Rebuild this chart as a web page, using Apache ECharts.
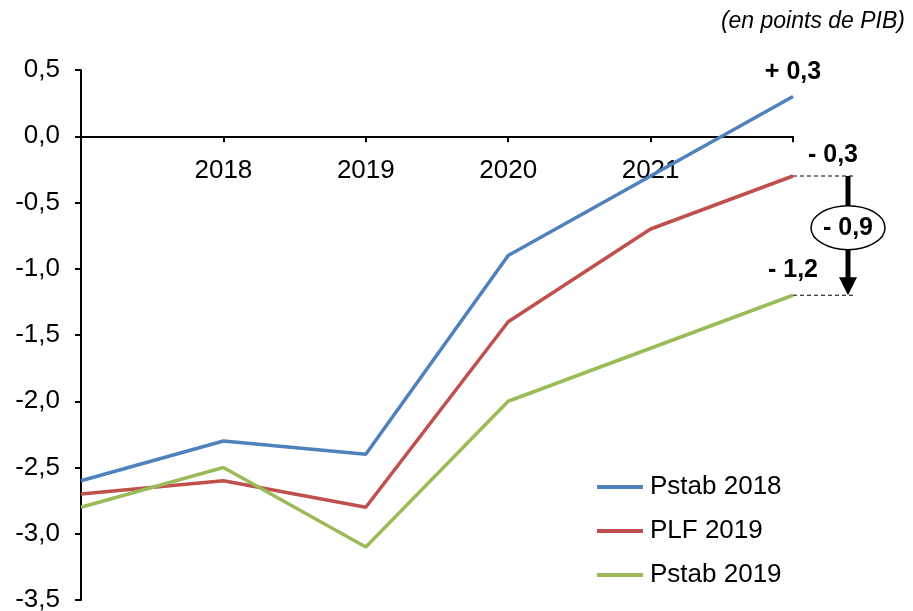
<!DOCTYPE html>
<html><head><meta charset="utf-8">
<script src="https://cdn.jsdelivr.net/npm/echarts@6/dist/echarts.min.js"></script>
<style>html,body{margin:0;padding:0;background:#fff}#c{width:913px;height:611px}</style>
</head><body><div id="c"></div>
<script>
const years = ['2017','2018','2019','2020','2021','2022'];
const shownYears = ['2018','2019','2020','2021'];
const yTicks = [0.5, 0.0, -0.5, -1.0, -1.5, -2.0, -2.5, -3.0, -3.5];
const pstab2018 = [-2.6, -2.3, -2.4, -0.9, -0.3, 0.3];
const plf2019 = [-2.7, -2.6, -2.8, -1.4, -0.7, -0.3];
const pstab2019 = [-2.8, -2.5, -3.1, -2.0, -1.6, -1.2];
const unitNote = '(en points de PIB)';

const FONT = '"Liberation Sans", Arial, sans-serif';
const fmt = v => v.toFixed(1).replace('.', ',');
const signed = v => (v >= 0 ? '+ ' : '- ') + fmt(Math.abs(v));

function withEndLabel(arr, labelOpt) {
  return arr.map((v, i) => i === arr.length - 1 ? {value: v, label: Object.assign({
    show: true, formatter: signed(v), fontFamily: FONT, fontSize: 25, fontWeight: 'bold', color: '#000'
  }, labelOpt)} : v);
}

const GRID = {left: 81, right: 120, top: 70, bottom: 11};
const H = 611;
const yMin = yTicks[yTicks.length - 1], yMax = yTicks[0];
const gridH = H - GRID.top - GRID.bottom;
const zeroOffset = -gridH * (0 - yMin) / (yMax - yMin);

const chart = echarts.init(document.getElementById('c'), null, {renderer: 'canvas'});
const option = {
  animation: false,
  backgroundColor: '#fff',
  grid: Object.assign({outerBoundsMode: 'none', containLabel: false}, GRID),
  xAxis: {
    type: 'category', data: years, boundaryGap: false, position: 'bottom', offset: zeroOffset,
    axisLine: {onZero: false, lineStyle: {color: '#000', width: 2}},
    axisTick: {show: true, length: 6, lineStyle: {color: '#000', width: 2}},
    axisLabel: {
      margin: 22, fontFamily: FONT, fontSize: 26, color: '#000',
      interval: 0,
      formatter: v => shownYears.includes(v) ? v : ''
    },
    splitLine: {show: false}
  },
  yAxis: {
    type: 'value', min: yMin, max: yMax, interval: 0.5,
    axisLine: {show: true, onZero: false, lineStyle: {color: '#000', width: 2}},
    axisTick: {show: true, length: 6, lineStyle: {color: '#000', width: 2}},
    axisLabel: {margin: 21, fontFamily: FONT, fontSize: 26, color: '#000', formatter: v => fmt(v)},
    splitLine: {show: false}
  },
  legend: {
    orient: 'vertical', left: 592, top: 469, itemWidth: 46, itemHeight: 4, itemGap: 18,
    icon: 'rect',
    textStyle: {fontFamily: FONT, fontSize: 26, color: '#000', lineHeight: 25, padding: [0,0,0,2]},
    data: ['Pstab 2018', 'PLF 2019', 'Pstab 2019']
  },
  series: [
    {name: 'Pstab 2018', type: 'line', symbol: 'circle', symbolSize: 0, showSymbol: true, color: '#4F81BD',
     lineStyle: {width: 3.5, color: '#4F81BD'},
     data: withEndLabel(pstab2018, {position: 'top', distance: 12})},
    {name: 'PLF 2019', type: 'line', symbol: 'circle', symbolSize: 0, showSymbol: true, color: '#C0504D',
     lineStyle: {width: 3.5, color: '#C0504D'},
     data: withEndLabel(plf2019, {position: 'top', distance: 8, offset: [40, 0]})},
    {name: 'Pstab 2019', type: 'line', symbol: 'circle', symbolSize: 0, showSymbol: true, color: '#9BBB59',
     lineStyle: {width: 3.5, color: '#9BBB59'},
     data: withEndLabel(pstab2019, {position: 'top', distance: 13})}
  ]
};
chart.setOption(option);

const last = years.length - 1;
const pRed = chart.convertToPixel({gridIndex: 0}, [last, plf2019[last]]);
const pGreen = chart.convertToPixel({gridIndex: 0}, [last, pstab2019[last]]);
const ax = pRed[0] + 55;
const diff = pstab2019[last] - plf2019[last];
const midY = (pRed[1] + pGreen[1]) / 2 - 8;
chart.setOption({
  graphic: [
    {type: 'text', right: 8, top: 10, style: {text: unitNote, fontFamily: FONT, fontSize: 23, fontStyle: 'italic', fill: '#000'}},
    {type: 'line', shape: {x1: pRed[0], y1: pRed[1], x2: pRed[0] + 60, y2: pRed[1]}, style: {stroke: '#000', lineWidth: 1.2, lineDash: [4, 3]}},
    {type: 'line', shape: {x1: pGreen[0], y1: pGreen[1], x2: pGreen[0] + 60, y2: pGreen[1]}, style: {stroke: '#000', lineWidth: 1.2, lineDash: [4, 3]}},
    {type: 'line', shape: {x1: ax, y1: pRed[1], x2: ax, y2: pGreen[1] - 16}, style: {stroke: '#000', lineWidth: 5}},
    {type: 'polygon', shape: {points: [[ax - 9, pGreen[1] - 18], [ax + 9, pGreen[1] - 18], [ax, pGreen[1]]]}, style: {fill: '#000'}},
    {type: 'ellipse', shape: {cx: ax, cy: midY, rx: 37, ry: 22}, style: {fill: '#fff', stroke: '#000', lineWidth: 1.5}, z: 10},
    {type: 'text', x: ax, y: midY, z: 11, style: {text: signed(diff), fontFamily: FONT, fontSize: 25, fontWeight: 'bold', fill: '#000', align: 'center', verticalAlign: 'middle'}}
  ]
});
</script></body></html>
